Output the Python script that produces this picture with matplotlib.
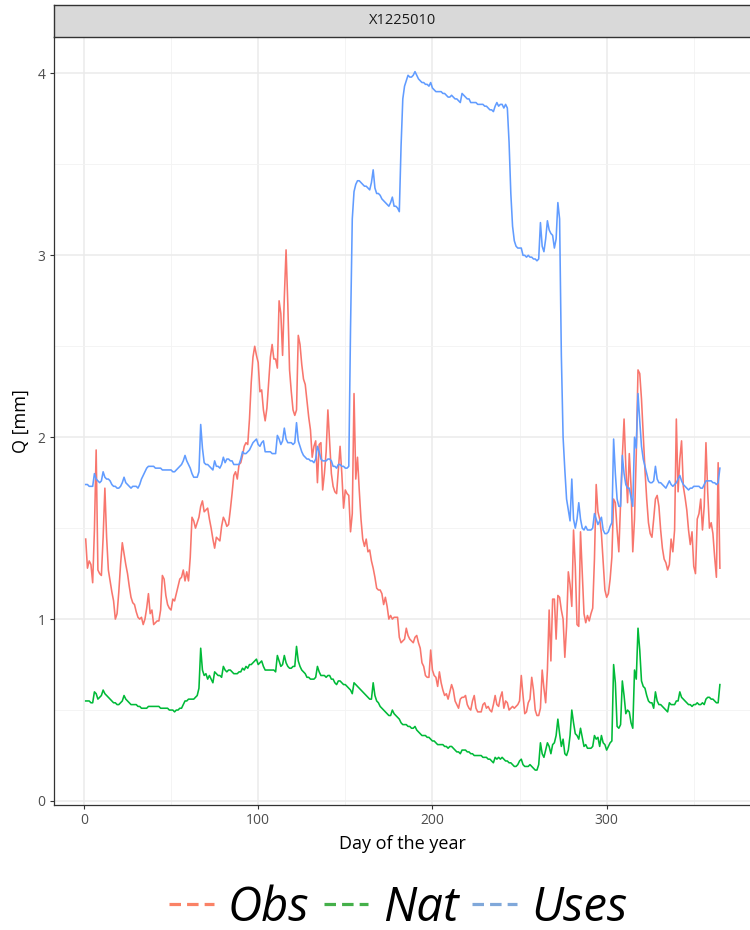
import matplotlib
matplotlib.use("Agg")
import matplotlib.pyplot as plt
from matplotlib.lines import Line2D
from matplotlib.ticker import MultipleLocator
import numpy as np

plt.rcParams["font.family"] = ["Open Sans", "DejaVu Sans"]

# ── Data: daily discharge, one value per day of the year ────────────────────
station = "X1225010"
days = np.arange(1, 366)

obs = [
    1.44, 1.28, 1.32, 1.30, 1.20, 1.49, 1.93, 1.27, 1.25, 1.24,
    1.45, 1.72, 1.45, 1.27, 1.21, 1.15, 1.10, 1.00, 1.03, 1.15,
    1.30, 1.42, 1.36, 1.30, 1.25, 1.18, 1.12, 1.09, 1.08, 1.04,
    1.01, 1.00, 1.01, 0.97, 1.00, 1.06, 1.14, 1.03, 1.05, 0.97,
    0.98, 0.99, 0.99, 1.05, 1.24, 1.22, 1.13, 1.08, 1.06, 1.05,
    1.11, 1.10, 1.14, 1.18, 1.22, 1.23, 1.27, 1.21, 1.26, 1.21,
    1.34, 1.56, 1.54, 1.50, 1.53, 1.56, 1.62, 1.65, 1.59, 1.60,
    1.61, 1.55, 1.50, 1.44, 1.39, 1.45, 1.44, 1.43, 1.51, 1.56,
    1.54, 1.51, 1.52, 1.60, 1.69, 1.79, 1.81, 1.77, 1.85, 1.86,
    1.90, 1.95, 1.97, 1.96, 2.10, 2.30, 2.44, 2.50, 2.45, 2.41,
    2.25, 2.26, 2.15, 2.09, 2.16, 2.30, 2.44, 2.51, 2.43, 2.43,
    2.38, 2.75, 2.68, 2.45, 2.77, 3.03, 2.73, 2.37, 2.25, 2.15,
    2.12, 2.15, 2.56, 2.51, 2.40, 2.32, 2.29, 2.20, 2.11, 2.04,
    1.89, 1.95, 1.98, 1.75, 1.96, 1.97, 1.71, 1.80, 1.92, 2.15,
    1.98, 1.80, 1.73, 1.70, 1.69, 1.82, 1.95, 1.80, 1.61, 1.71,
    1.69, 1.68, 1.48, 1.58, 2.24, 1.77, 1.89, 1.71, 1.55, 1.44,
    1.40, 1.44, 1.37, 1.38, 1.32, 1.28, 1.23, 1.17, 1.16, 1.16,
    1.14, 1.08, 1.12, 1.07, 1.00, 1.02, 1.00, 1.01, 1.01, 1.01,
    0.90, 0.87, 0.88, 0.89, 0.95, 0.91, 0.89, 0.88, 0.87, 0.90,
    0.91, 0.87, 0.84, 0.76, 0.74, 0.69, 0.68, 0.68, 0.83, 0.72,
    0.69, 0.68, 0.63, 0.71, 0.65, 0.61, 0.58, 0.59, 0.56, 0.60,
    0.64, 0.61, 0.55, 0.53, 0.51, 0.56, 0.57, 0.57, 0.58, 0.53,
    0.51, 0.50, 0.55, 0.58, 0.51, 0.49, 0.49, 0.49, 0.53, 0.54,
    0.51, 0.52, 0.50, 0.49, 0.53, 0.58, 0.53, 0.52, 0.57, 0.60,
    0.51, 0.55, 0.54, 0.50, 0.51, 0.52, 0.51, 0.52, 0.53, 0.55,
    0.69, 0.58, 0.48, 0.49, 0.54, 0.56, 0.68, 0.61, 0.50, 0.47,
    0.47, 0.51, 0.72, 0.62, 0.54, 0.72, 1.05, 0.77, 1.11, 1.11,
    0.89, 1.13, 1.12, 1.05, 1.00, 0.79, 0.96, 1.26, 1.19, 1.07,
    1.49, 1.29, 0.97, 0.96, 1.48, 1.25, 1.03, 0.98, 1.02, 0.99,
    1.03, 1.06, 1.33, 1.74, 1.59, 1.55, 1.47, 1.31, 1.16, 1.12,
    1.14, 1.22, 1.34, 1.66, 1.64, 1.49, 1.37, 1.64, 1.89, 2.10,
    1.84, 1.64, 1.91, 1.73, 1.37, 1.55, 1.91, 2.37, 2.35, 2.21,
    2.02, 1.82, 1.66, 1.53, 1.47, 1.45, 1.55, 1.66, 1.68, 1.62,
    1.49, 1.39, 1.33, 1.31, 1.27, 1.30, 1.44, 1.37, 1.49, 2.10,
    1.70, 1.88, 1.98, 1.73, 1.67, 1.60, 1.49, 1.41, 1.48, 1.29,
    1.25, 1.55, 1.58, 1.66, 1.49, 1.62, 1.97, 1.70, 1.50, 1.53,
    1.47, 1.34, 1.23, 1.86, 1.28,
]

nat = [
    0.55, 0.55, 0.55, 0.54, 0.54, 0.60, 0.59, 0.56, 0.57, 0.58,
    0.61, 0.59, 0.58, 0.57, 0.56, 0.55, 0.54, 0.54, 0.53, 0.53,
    0.54, 0.55, 0.58, 0.56, 0.55, 0.54, 0.53, 0.53, 0.53, 0.53,
    0.52, 0.52, 0.51, 0.51, 0.51, 0.51, 0.52, 0.52, 0.52, 0.52,
    0.52, 0.52, 0.52, 0.51, 0.51, 0.51, 0.51, 0.51, 0.50, 0.50,
    0.50, 0.49, 0.50, 0.50, 0.51, 0.51, 0.53, 0.55, 0.55, 0.56,
    0.56, 0.56, 0.56, 0.57, 0.58, 0.62, 0.84, 0.72, 0.69, 0.70,
    0.67, 0.69, 0.67, 0.65, 0.71, 0.70, 0.69, 0.69, 0.68, 0.74,
    0.72, 0.71, 0.72, 0.72, 0.71, 0.70, 0.70, 0.70, 0.71, 0.71,
    0.73, 0.72, 0.74, 0.73, 0.75, 0.75, 0.76, 0.77, 0.78, 0.75,
    0.76, 0.77, 0.74, 0.72, 0.72, 0.72, 0.72, 0.72, 0.72, 0.71,
    0.80, 0.77, 0.74, 0.75, 0.80, 0.76, 0.74, 0.73, 0.73, 0.74,
    0.74, 0.85, 0.77, 0.74, 0.72, 0.71, 0.70, 0.68, 0.68, 0.67,
    0.67, 0.67, 0.68, 0.74, 0.71, 0.69, 0.69, 0.69, 0.68, 0.69,
    0.69, 0.67, 0.67, 0.65, 0.64, 0.66, 0.66, 0.65, 0.64, 0.64,
    0.63, 0.62, 0.61, 0.59, 0.65, 0.64, 0.63, 0.62, 0.61, 0.60,
    0.59, 0.58, 0.57, 0.56, 0.56, 0.65, 0.58, 0.55, 0.54, 0.52,
    0.51, 0.50, 0.49, 0.48, 0.47, 0.47, 0.50, 0.48, 0.47, 0.46,
    0.45, 0.43, 0.42, 0.42, 0.42, 0.41, 0.41, 0.40, 0.40, 0.41,
    0.39, 0.38, 0.37, 0.36, 0.36, 0.36, 0.35, 0.35, 0.34, 0.33,
    0.33, 0.32, 0.31, 0.31, 0.31, 0.31, 0.30, 0.30, 0.29, 0.30,
    0.30, 0.29, 0.28, 0.27, 0.27, 0.26, 0.28, 0.28, 0.28, 0.27,
    0.27, 0.26, 0.26, 0.25, 0.25, 0.25, 0.25, 0.25, 0.24, 0.24,
    0.24, 0.23, 0.23, 0.22, 0.21, 0.24, 0.23, 0.24, 0.23, 0.24,
    0.23, 0.22, 0.22, 0.21, 0.21, 0.20, 0.19, 0.19, 0.20, 0.22,
    0.23, 0.20, 0.19, 0.19, 0.19, 0.20, 0.19, 0.18, 0.17, 0.17,
    0.20, 0.32, 0.26, 0.24, 0.28, 0.32, 0.30, 0.26, 0.31, 0.32,
    0.36, 0.45, 0.37, 0.30, 0.34, 0.26, 0.25, 0.28, 0.36, 0.50,
    0.43, 0.37, 0.36, 0.34, 0.40, 0.35, 0.30, 0.31, 0.29, 0.29,
    0.29, 0.30, 0.36, 0.34, 0.35, 0.30, 0.36, 0.32, 0.31, 0.28,
    0.30, 0.32, 0.33, 0.75, 0.65, 0.41, 0.40, 0.42, 0.66, 0.58,
    0.48, 0.50, 0.49, 0.43, 0.40, 0.72, 0.67, 0.95, 0.83, 0.66,
    0.63, 0.62, 0.58, 0.55, 0.54, 0.54, 0.51, 0.60, 0.55, 0.53,
    0.53, 0.52, 0.51, 0.50, 0.49, 0.54, 0.53, 0.53, 0.53, 0.55,
    0.55, 0.60, 0.57, 0.56, 0.55, 0.54, 0.53, 0.53, 0.52, 0.53,
    0.53, 0.54, 0.53, 0.53, 0.54, 0.53, 0.56, 0.57, 0.57, 0.56,
    0.56, 0.55, 0.54, 0.54, 0.64,
]

uses = [
    1.74, 1.74, 1.73, 1.73, 1.73, 1.80, 1.77, 1.76, 1.75, 1.76,
    1.81, 1.78, 1.77, 1.77, 1.76, 1.74, 1.73, 1.73, 1.72, 1.72,
    1.73, 1.75, 1.78, 1.75, 1.74, 1.73, 1.72, 1.73, 1.73, 1.73,
    1.72, 1.74, 1.77, 1.79, 1.81, 1.83, 1.84, 1.84, 1.84, 1.84,
    1.83, 1.83, 1.83, 1.83, 1.82, 1.82, 1.82, 1.82, 1.82, 1.82,
    1.81, 1.81, 1.82, 1.83, 1.84, 1.85, 1.87, 1.90, 1.87, 1.85,
    1.83, 1.80, 1.78, 1.78, 1.78, 1.81, 2.07, 1.94, 1.86, 1.85,
    1.85, 1.84, 1.83, 1.82, 1.87, 1.84, 1.84, 1.83, 1.85, 1.89,
    1.86, 1.88, 1.88, 1.87, 1.87, 1.85, 1.85, 1.85, 1.85, 1.88,
    1.92, 1.91, 1.91, 1.92, 1.93, 1.95, 1.97, 1.98, 1.99, 1.96,
    1.95, 1.97, 1.98, 1.92, 1.92, 1.92, 1.92, 1.91, 1.91, 1.91,
    2.01, 1.99, 1.96, 1.98, 2.05, 1.99, 1.97, 1.97, 1.97, 1.96,
    1.97, 2.08, 1.98, 1.95, 1.92, 1.90, 1.89, 1.88, 1.88, 1.87,
    1.87, 1.86, 1.88, 1.95, 1.92, 1.88, 1.87, 1.87, 1.87, 1.88,
    1.88, 1.87, 1.84, 1.84, 1.83, 1.85, 1.85, 1.84, 1.84, 1.83,
    1.83, 1.84, 2.60, 3.20, 3.35, 3.39, 3.41, 3.41, 3.40, 3.39,
    3.38, 3.38, 3.37, 3.36, 3.40, 3.47, 3.37, 3.34, 3.34, 3.33,
    3.31, 3.30, 3.29, 3.28, 3.27, 3.29, 3.32, 3.27, 3.27, 3.26,
    3.24, 3.60, 3.86, 3.93, 3.96, 3.99, 3.98, 3.98, 3.99, 4.01,
    3.99, 3.97, 3.96, 3.95, 3.95, 3.94, 3.94, 3.93, 3.95, 3.92,
    3.91, 3.90, 3.90, 3.90, 3.90, 3.89, 3.89, 3.88, 3.87, 3.87,
    3.88, 3.87, 3.86, 3.86, 3.85, 3.84, 3.89, 3.88, 3.87, 3.86,
    3.86, 3.84, 3.84, 3.84, 3.84, 3.83, 3.83, 3.83, 3.83, 3.82,
    3.82, 3.81, 3.80, 3.80, 3.79, 3.82, 3.84, 3.82, 3.83, 3.83,
    3.81, 3.83, 3.81, 3.62, 3.34, 3.16, 3.08, 3.05, 3.04, 3.04,
    3.04, 3.00, 3.00, 2.99, 3.00, 2.99, 2.99, 2.98, 2.98, 2.97,
    2.98, 3.18, 3.05, 3.02, 3.09, 3.19, 3.14, 3.12, 3.11, 3.04,
    3.09, 3.29, 3.20, 2.45, 2.00, 1.82, 1.66, 1.60, 1.54, 1.77,
    1.55, 1.50, 1.55, 1.64, 1.55, 1.50, 1.49, 1.51, 1.49, 1.49,
    1.49, 1.50, 1.58, 1.55, 1.52, 1.54, 1.56, 1.49, 1.47, 1.47,
    1.48, 1.51, 1.53, 1.99, 1.80, 1.66, 1.62, 1.62, 1.90, 1.80,
    1.74, 1.72, 1.72, 1.67, 1.62, 2.00, 1.94, 2.24, 2.09, 1.95,
    1.88, 1.84, 1.80, 1.76, 1.75, 1.75, 1.76, 1.84, 1.77, 1.75,
    1.75, 1.74, 1.73, 1.72, 1.74, 1.76, 1.74, 1.73, 1.74, 1.75,
    1.77, 1.79, 1.76, 1.74, 1.73, 1.72, 1.71, 1.72, 1.72, 1.73,
    1.73, 1.73, 1.73, 1.72, 1.72, 1.74, 1.76, 1.76, 1.76, 1.76,
    1.75, 1.75, 1.74, 1.75, 1.83,
]

series_names = ["Obs", "Nat", "Uses"]
x_ticks = [0, 100, 200, 300]
y_ticks = [0, 1, 2, 3, 4]

_LINE_COLORS = {"Obs": "#F8766D", "Nat": "#00BA38", "Uses": "#619CFF"}
_KEY_COLORS = {"Obs": "#FA8266", "Nat": "#45B04A", "Uses": "#80A8DA"}

# ── Figure / panel geometry (pixels of a 750x930 canvas) ────────────────────
W, H = 750, 930
fig = plt.figure(figsize=(W / 100, H / 100), dpi=100)
fig.patch.set_facecolor("white")

panel_left, panel_right = 54, 751.6
panel_top, panel_bottom = 36.7, 805
ax = fig.add_axes([panel_left / W, 1 - panel_bottom / H,
                   (panel_right - panel_left) / W,
                   (panel_bottom - panel_top) / H])
ax.set_facecolor("white")

values = {"Obs": obs, "Nat": nat, "Uses": uses}
for name in series_names:
    ax.plot(days, values[name], color=_LINE_COLORS[name], linewidth=1.15,
            solid_joinstyle="round", zorder=3)

# ggplot-like 5% expansion of the data range
all_vals = np.concatenate([obs, nat, uses])
ypad = 0.05 * (all_vals.max() - all_vals.min())
xpad = 0.05 * (days.max() - days.min())
ax.set_xlim(days.min() - xpad, days.max() + xpad)
ax.set_ylim(all_vals.min() - ypad, all_vals.max() + ypad)

ax.set_xticks(x_ticks)
ax.set_yticks(y_ticks)
ax.xaxis.set_minor_locator(MultipleLocator(50))
ax.yaxis.set_minor_locator(MultipleLocator(0.5))
ax.grid(which="major", color="#EBEBEB", linewidth=1.1, zorder=0)
ax.grid(which="minor", color="#F3F3F3", linewidth=0.6, zorder=0)
ax.set_axisbelow(True)

ax.tick_params(which="major", length=3, width=0.8, color="#333333",
               labelsize=10, labelcolor="#4D4D4D", pad=3)
ax.tick_params(which="minor", length=0)
for side in ["top", "right"]:
    ax.spines[side].set_visible(False)
for side in ["left", "bottom"]:
    ax.spines[side].set_color("#333333")
    ax.spines[side].set_linewidth(0.9)

ax.set_xlabel("Day of the year", fontsize=13, color="black", labelpad=5)
ax.set_ylabel("Q [mm]", fontsize=13, color="black", labelpad=6)

# ── Facet strip ─────────────────────────────────────────────────────────────
strip_top = 5
strip = fig.add_axes([panel_left / W, 1 - panel_top / H,
                      (panel_right - panel_left) / W,
                      (panel_top - strip_top) / H])
strip.set_facecolor("#D9D9D9")
strip.set_xticks([])
strip.set_yticks([])
for sp in strip.spines.values():
    sp.set_color("#333333")
    sp.set_linewidth(1.0)
strip.text(0.5, 0.5, station, ha="center", va="center", fontsize=10.5,
           color="#1A1A1A", transform=strip.transAxes)

# ── Legend ──────────────────────────────────────────────────────────────────
handles = [Line2D([0], [0], color=_KEY_COLORS[n], linewidth=2.3,
                  linestyle=(0, (3.6, 1.9))) for n in series_names]
fig.legend(handles, series_names, loc="center",
           bbox_to_anchor=(0.531, 1 - 908 / H), ncol=3, frameon=False,
           prop={"style": "italic", "size": 34},
           handlelength=0.95, handletextpad=0.3, columnspacing=0.3,
           borderpad=0, borderaxespad=0)

fig.savefig("out.png", dpi=100, facecolor="white")
plt.close(fig)
